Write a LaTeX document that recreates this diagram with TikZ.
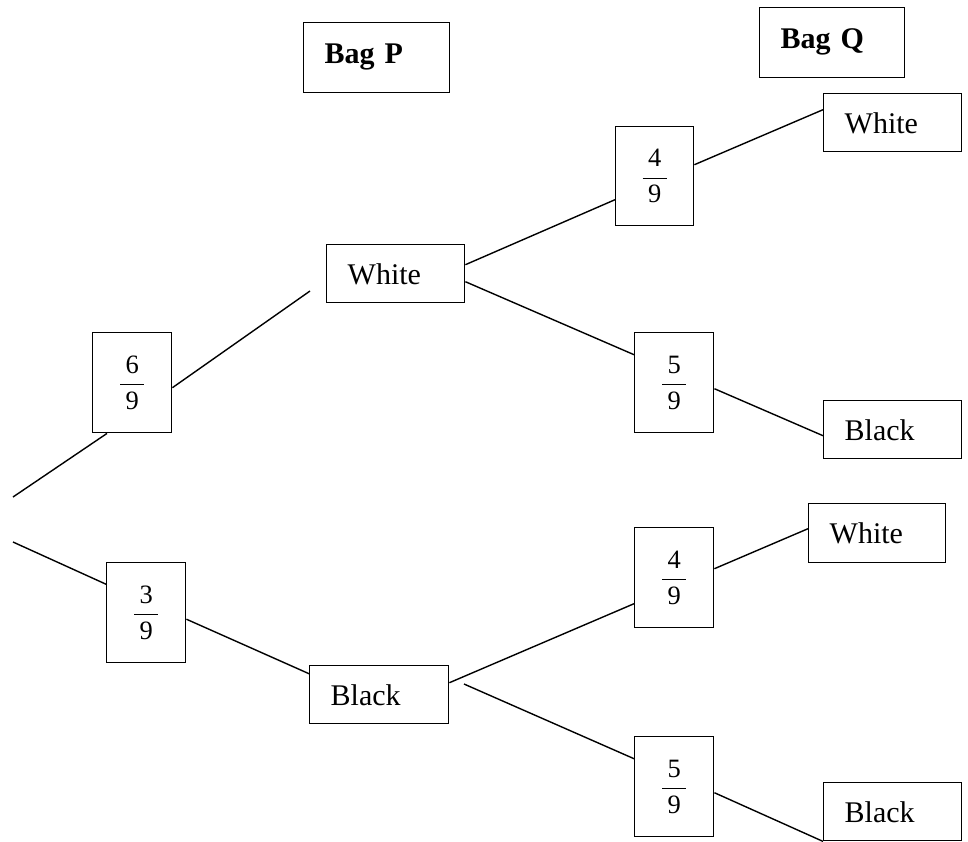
\documentclass[tikz,border=0pt]{standalone}
\usepackage{fix-cm}
\usepackage{fontspec}
\setmainfont{Liberation Serif}
\usetikzlibrary{calc}
\newcommand\myfrac[2]{\fontsize{26.5}{30}\selectfont$\displaystyle\frac{\makebox[24pt]{#1}}{\makebox[24pt]{#2}}$}
\begin{document}
\begin{tikzpicture}[x=1pt,y=-1pt,
  lbox/.style={draw, line width=1.4pt, anchor=north west, inner ysep=0pt, inner xsep=21pt,
     align=left, text depth=0pt, font=\fontsize{30}{36}\selectfont},
  bagbox/.style={lbox, minimum height=70pt, text depth=9pt, font=\fontsize{30}{36}\selectfont\bfseries},
  fbox/.style={draw, line width=1.4pt, anchor=north west, inner sep=0pt,
     minimum width=79pt, minimum height=100pt},
  conn/.style={line width=1.4pt}]
\useasboundingbox (0,0) rectangle (968,841);
% headers
\node[bagbox, text width=104pt] (bagp) at (303,22) {Bag P};
\node[bagbox, text width=103pt] (bagq) at (759,7) {Bag Q};
% outcome boxes
\node[lbox, text width=96pt, minimum height=58pt] (wp) at (326,244) {White};
\node[lbox, text width=97pt, minimum height=58pt] (bp) at (309,665) {Black};
\node[lbox, text width=96pt, minimum height=58pt] (wq1) at (823,93) {White};
\node[lbox, text width=96pt, minimum height=58pt] (bq1) at (823,400) {Black};
\node[lbox, text width=95pt, minimum height=59pt] (wq2) at (808,503) {White};
\node[lbox, text width=96pt, minimum height=58pt] (bq2) at (823,782) {Black};
% fraction boxes
\node[fbox] (f69) at (92,332) {\myfrac{6}{9}};
\node[fbox] (f39) at (106,562) {\myfrac{3}{9}};
\node[fbox, minimum width=78pt, minimum height=99pt] (f49a) at (615,126) {\myfrac{4}{9}};
\node[fbox] (f59a) at (634,332) {\myfrac{5}{9}};
\node[fbox] (f49b) at (634,527) {\myfrac{4}{9}};
\node[fbox] (f59b) at (634,736) {\myfrac{5}{9}};
% free ends
\coordinate (r1) at (13,497);
\coordinate (r2) at (13,542);
\coordinate (g1) at (310,291);
\coordinate (g2) at (464,684);
% connectors
\draw[conn] (r1) -- ([xshift=15pt]f69.south west);
\draw[conn] ([yshift=-5pt]f69.east) -- (g1);
\draw[conn] ([yshift=9pt]wp.east) -- ([yshift=-23.5pt]f49a.west);
\draw[conn] ([yshift=-8pt]wp.east) -- ([yshift=28pt]f59a.west);
\draw[conn] ([yshift=11.5pt]f49a.east) -- ([yshift=13pt]wq1.west);
\draw[conn] ([yshift=-6pt]f59a.east) -- ([yshift=-6pt]bq1.west);
\draw[conn] (r2) -- ([yshift=28.5pt]f39.west);
\draw[conn] ([yshift=-6.5pt]f39.east) -- ([yshift=21pt]bp.west);
\draw[conn] ([yshift=12pt]bp.east) -- ([yshift=-26pt]f49b.west);
\draw[conn] (g2) -- ([yshift=28pt]f59b.west);
\draw[conn] ([yshift=9pt]f49b.east) -- ([yshift=4.5pt]wq2.west);
\draw[conn] ([yshift=-6pt]f59b.east) -- (bq2.south west);
\end{tikzpicture}
\end{document}
